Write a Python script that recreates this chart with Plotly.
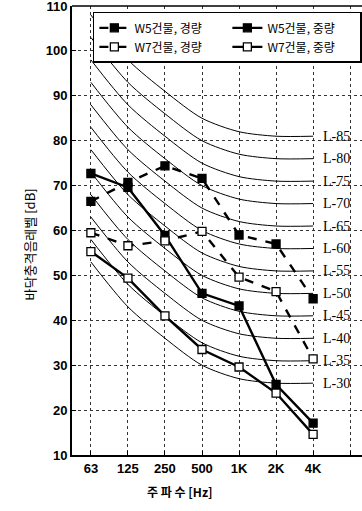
import plotly.graph_objects as go

freqs = ["63", "125", "250", "500", "1K", "2K", "4K"]
w5_light = [66.5, 70.7, 74.4, 71.6, 59.0, 57.0, 44.8]
w7_light = [59.5, 56.6, 57.7, 59.8, 49.6, 46.4, 31.4]
w5_heavy = [72.7, 69.6, 58.9, 46.0, 43.2, 25.7, 17.1]
w7_heavy = [55.3, 49.4, 41.0, 33.5, 29.6, 23.8, 14.6]
l_numbers = [30, 35, 40, 45, 50, 55, 60, 65, 70, 75, 80, 85]
l_offsets = [23, 13, 6, 0, -3, -4, -4]
y_ticks = [10, 20, 30, 40, 50, 60, 70, 80, 90, 100, 110]

xi = list(range(len(freqs)))
fig = go.Figure()

for n in l_numbers:
    fig.add_trace(go.Scatter(
        x=xi, y=[n + o for o in l_offsets], mode="lines",
        line=dict(color="black", width=1, shape="spline", smoothing=0.8),
        showlegend=False, hoverinfo="skip"))

def series(name, vals, dash, filled):
    fig.add_trace(go.Scatter(
        x=xi, y=vals, mode="lines+markers", name=name,
        line=dict(color="black", width=2.4, dash=dash),
        marker=dict(symbol="square", size=8,
                    color="black" if filled else "white",
                    line=dict(color="black", width=1.3))))

series("W5건물, 경량", w5_light, "dash", True)
series("W5건물, 중량", w5_heavy, "solid", True)
series("W7건물, 경량", w7_light, "dash", False)
series("W7건물, 중량", w7_heavy, "solid", False)

for n in l_numbers:
    fig.add_annotation(x=6.22, y=n + l_offsets[-1], xref="x", yref="y",
                       text=f"L-{n}", showarrow=False, xanchor="left",
                       font=dict(family="Liberation Serif", size=14, color="black"))

fig.add_annotation(xref="paper", yref="paper", x=-0.186, y=0.468,
                   text="바닥충격음레벨 [dB]", textangle=-90, showarrow=False,
                   font=dict(family="Noto Sans CJK KR", size=13, color="black"))
fig.add_annotation(xref="paper", yref="paper", x=0.372, y=-0.082,
                   text="<b>주 파 수 [Hz]</b>", showarrow=False, yanchor="middle",
                   font=dict(family="Noto Sans CJK KR", size=12, color="black"))

fig.update_xaxes(
    range=[-0.51, 7.32], tickvals=list(range(8)), ticktext=freqs + [""],
    showgrid=True, gridcolor="#333", griddash="dot", gridwidth=1,
    showline=True, linecolor="black", linewidth=2,
    ticks="inside", ticklen=4, tickcolor="black", zeroline=False,
    ticklabeloverflow="allow",
    tickfont=dict(family="Liberation Sans", size=13, color="black", weight="bold"))
fig.update_yaxes(
    range=[10, 110], tickvals=y_ticks,
    showgrid=True, gridcolor="#333", griddash="dot", gridwidth=1,
    showline=True, linecolor="black", linewidth=2, mirror=False,
    ticks="inside", ticklen=4, tickcolor="black", zeroline=False,
    ticklabeloverflow="allow",
    tickfont=dict(family="Liberation Sans", size=13, color="black", weight="bold"))

fig.add_shape(type="line", xref="paper", yref="paper", x0=0, x1=1, y0=1, y1=1,
              line=dict(color="black", width=1.5))

fig.update_layout(
    width=362, height=511,
    margin=dict(l=72, r=0, t=6, b=56),
    plot_bgcolor="white", paper_bgcolor="white",
    legend=dict(x=0.072, y=0.987, xanchor="left", yanchor="top",
                orientation="h", entrywidth=88, itemwidth=30,
                bgcolor="white", bordercolor="black", borderwidth=1.5,
                font=dict(family="Noto Sans CJK KR", size=12, color="black"),
                tracegroupgap=0),
)

fig.write_html("out.html")
